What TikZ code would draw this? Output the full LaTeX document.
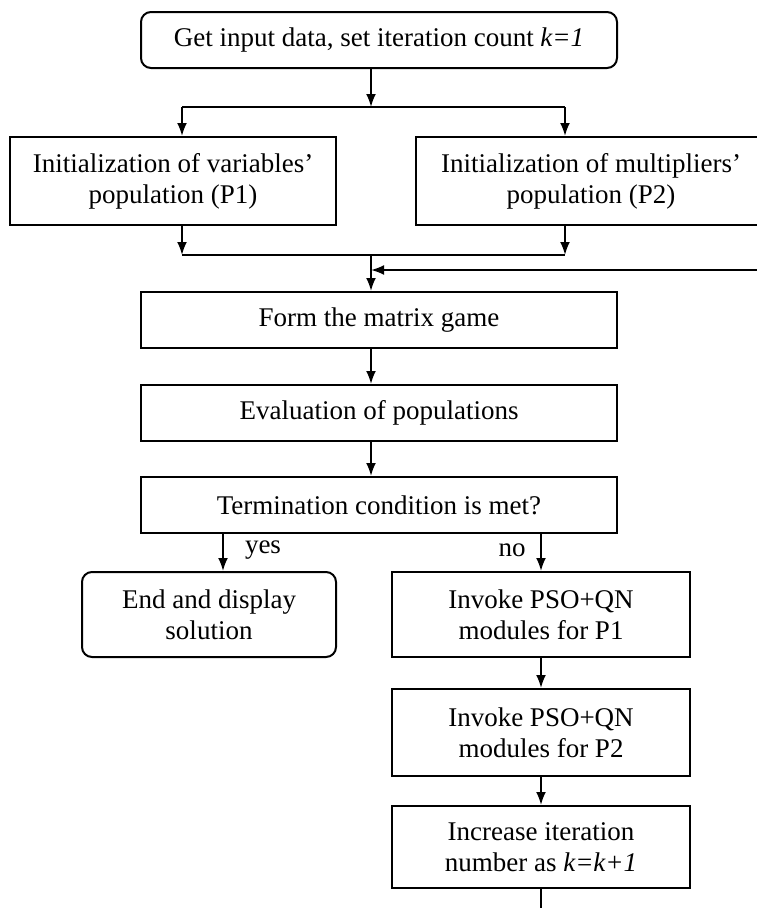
\documentclass[tikz,border=0pt]{standalone}
\usepackage{fontspec}
\setmainfont{Liberation Serif}
\usepackage{tikz}
\usetikzlibrary{ arrows.meta, % For the arrow tips
               }
\tikzstyle{edge} = [-{Latex[length=13pt, width=10pt]}, line width=2pt]
\tikzstyle{line} = [line width=2pt]
\tikzstyle{process} = [rectangle, draw=black, line width=2pt, align=center, inner sep=0pt, font=\fontsize{27}{31}\selectfont]
\tikzstyle{terminal} = [process, rounded corners=10pt]
\tikzstyle{answer} = [font=\fontsize{27}{31}\selectfont]

\begin{document}
\begin{tikzpicture}[x=1pt, y=-1pt]
  \useasboundingbox (0,0) rectangle (757,908);
  \clip (0,0) rectangle (757,908);
  % boxes
  \node (start) [terminal, minimum width=476pt, minimum height=56pt] at (379, 40) {Get input data, set iteration count \textit{k=1}};
  \node (init1) [process, minimum width=326pt, minimum height=88pt] at (173, 181) {Initialization of variables'\\population (P1)};
  \node (init2) [process, minimum width=350pt, minimum height=88pt] at (591, 181) {Initialization of multipliers'\\population (P2)};
  \node (form) [process, minimum width=476pt, minimum height=56pt] at (379, 320) {Form the matrix game};
  \node (eval) [process, minimum width=476pt, minimum height=56pt] at (379, 413) {Evaluation of populations};
  \node (term) [process, minimum width=476pt, minimum height=56pt] at (379, 505) {Termination condition is met?};
  \node (stop) [terminal, minimum width=254pt, minimum height=85pt] at (209, 614.5) {End and display\\solution};
  \node (pso1) [process, minimum width=298pt, minimum height=85pt] at (541, 614.5) {Invoke PSO+QN\\modules for P1};
  \node (pso2) [process, minimum width=298pt, minimum height=87pt] at (541, 732.5) {Invoke PSO+QN\\modules for P2};
  \node (incr) [process, minimum width=298pt, minimum height=82pt] at (541, 847) {Increase iteration\\number as \textit{k=k+1}};
  \node (yes) [answer] at (263, 550) {yes};
  \node (no) [answer] at (512, 550) {no};
  % junctions
  \coordinate (split) at (371, 107);
  \coordinate (splitl) at (182, 107);
  \coordinate (splitr) at (565, 107);
  \coordinate (merge) at (371, 255);
  \coordinate (mergel) at (182, 255);
  \coordinate (merger) at (565, 255);
  \coordinate (loopin) at (371, 270);
  \coordinate (loopback) at (757, 270);
  \coordinate (yesx) at (223, 0);
  \coordinate (tail) at (541, 908);
  % connectors
  \draw [edge] (start.south -| split) -- (split);
  \draw [line] (splitl) -- (splitr);
  \draw [edge] (splitl) -- (init1.north -| splitl);
  \draw [edge] (splitr) -- (init2.north -| splitr);
  \draw [edge] (init1.south -| mergel) -- (mergel);
  \draw [edge] (init2.south -| merger) -- (merger);
  \draw [line] (mergel) -- (merger);
  \draw [edge] (merge) -- (form.north -| merge);
  \draw [edge] (loopback) -- (loopin);
  \draw [edge] (form.south -| merge) -- (eval.north -| merge);
  \draw [edge] (eval.south -| merge) -- (term.north -| merge);
  \draw [edge] (term.south -| yesx) -- (stop.north -| yesx);
  \draw [edge] (term.south -| pso1) -- (pso1);
  \draw [edge] (pso1) -- (pso2);
  \draw [edge] (pso2) -- (incr);
  \draw [line] (incr) -- (tail);
\end{tikzpicture}
\end{document}
